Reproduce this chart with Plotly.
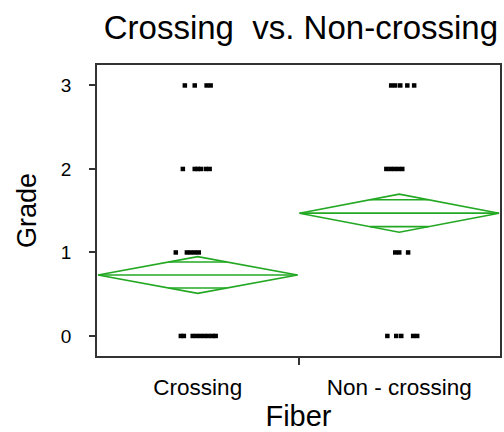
import math
import plotly.graph_objects as go

# Fiber groups and their position on the category axis
groups = ["Crossing", "Non - crossing"]
group_pos = [0, 1]

# Individual grades per group, with the horizontal jitter used to spread them
crossing_grade = [3, 3, 3, 3,
                  2, 2, 2, 2, 2, 2,
                  1, 1, 1, 1, 1,
                  0, 0, 0, 0, 0, 0, 0, 0, 0]
crossing_jitter = [-0.064, -0.015, 0.044, 0.064,
                   -0.074, -0.015, 0.0, 0.015, 0.040, 0.059,
                   -0.109, -0.054, -0.035, -0.015, 0.005,
                   -0.084, -0.069, -0.025, -0.005, 0.015, 0.035, 0.054, 0.074, 0.089]

noncross_grade = [3, 3, 3, 3, 3,
                  2, 2, 2, 2, 2,
                  1, 1, 1,
                  0, 0, 0, 0, 0]
noncross_jitter = [-0.040, -0.020, 0.005, 0.040, 0.074,
                   -0.064, -0.044, -0.025, -0.005, 0.015,
                   -0.020, 0.0, 0.044,
                   -0.059, -0.015, 0.010, 0.069, 0.089]

# Group means and 95% confidence half-widths (means diamonds)
group_mean = [0.73, 1.47]
group_ci = [0.22, 0.228]
diamond_halfwidth = [0.495, 0.495]

y_ticks = [0, 1, 2, 3]

GREEN = "#23a823"
fig = go.Figure()

# Means diamonds with mean line and overlap marks
for c, m, h, w in zip(group_pos, group_mean, group_ci, diamond_halfwidth):
    fig.add_trace(go.Scatter(
        x=[c - w, c, c + w, c, c - w],
        y=[m, m + h, m, m - h, m],
        mode="lines", line=dict(color=GREEN, width=1.7),
        hoverinfo="skip", showlegend=False))
    fig.add_trace(go.Scatter(
        x=[c - w, c + w], y=[m, m],
        mode="lines", line=dict(color=GREEN, width=1.7),
        hoverinfo="skip", showlegend=False))
    d = h / math.sqrt(2)
    ow = w * (1 - 1 / math.sqrt(2))
    for yy in (m + d, m - d):
        fig.add_trace(go.Scatter(
            x=[c - ow, c + ow], y=[yy, yy],
            mode="lines", line=dict(color=GREEN, width=1.7),
            hoverinfo="skip", showlegend=False))

# Observations
for c, grades, jit in ((group_pos[0], crossing_grade, crossing_jitter),
                       (group_pos[1], noncross_grade, noncross_jitter)):
    fig.add_trace(go.Scatter(
        x=[c + j for j in jit], y=grades,
        mode="markers",
        marker=dict(symbol="square", size=4.5, color="black", line=dict(width=0)),
        showlegend=False))

font = "Liberation Sans, Arial, sans-serif"
fig.update_layout(
    width=504, height=432,
    margin=dict(l=97, r=2, t=65, b=76),
    paper_bgcolor="white", plot_bgcolor="white",
    font=dict(family=font, color="black"),
    title=dict(text="Crossing  vs. Non-crossing", x=0.597, xref="container",
               xanchor="center", y=1 - 27 / 432, yref="container",
               yanchor="middle", font=dict(size=33, family=font, color="black")),
    xaxis=dict(
        range=[-0.5, 1.5], tickmode="array", tickvals=group_pos, ticktext=groups,
        ticks="", tickfont=dict(size=22.5), ticklabelstandoff=10,
        showgrid=False, zeroline=False,
        showline=True, linecolor="#333333", linewidth=1.5, mirror=True,
        minor=dict(tickmode="array", tickvals=[0.5], ticks="outside",
                   ticklen=7, tickwidth=1.5, tickcolor="#333333", showgrid=False),
        title=dict(text="Fiber", font=dict(size=29), standoff=2),
    ),
    yaxis=dict(
        range=[-0.24, 3.245], tickmode="array", tickvals=y_ticks,
        ticks="outside", ticklen=6, tickwidth=1.5, tickcolor="#333333",
        tickfont=dict(size=19), ticklabelstandoff=14,
        showgrid=False, zeroline=False,
        showline=True, linecolor="#333333", linewidth=1.5, mirror=True,
        title=dict(text="Grade", font=dict(size=27), standoff=16),
    ),
)

fig.write_html("out.html")
